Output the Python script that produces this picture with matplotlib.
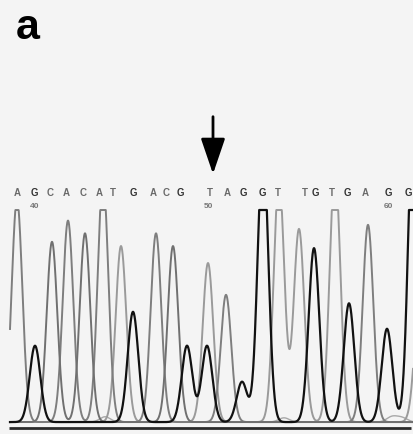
import numpy as np
import matplotlib
matplotlib.use("Agg")
import matplotlib.pyplot as plt

# called bases and their positions along the trace (scan units)
BASES = list("AGCACATGACGTAGGTTGTGAGG")
BASE_X = [17, 34, 50, 66, 83, 99, 113, 133, 153, 166, 180, 210, 227,
          243, 262, 278, 305, 315, 332, 347, 365, 388, 408]
POS_LABELS = ["40", "50", "60"]
POS_X = [35, 208, 388]

# peaks per channel: centre, height (1.0 = clipped top of the display)
G_X = [35, 133, 187, 207, 242, 263, 314, 349, 387, 414]
G_H = [0.36, 0.52, 0.36, 0.36, 0.19, 1.30, 0.82, 0.56, 0.44, 1.6]
A_X = [17, 68, 103, 156, 226, 368]
A_H = [1.05, 0.95, 1.15, 0.89, 0.60, 0.93]
C_X = [52, 85, 173]
C_H = [0.85, 0.89, 0.83]
T_X = [121, 208, 279, 299, 335, 420]
T_H = [0.83, 0.75, 1.15, 0.91, 1.20, 0.6]
# small baseline bumps
N_X = [105, 284, 392, 402]
N_H = [0.025, 0.02, 0.025, 0.02]

SIGMA = 5.3
BG = "#f4f4f4"


def trace(xs, centres, heights, sigma=SIGMA):
    y = np.zeros_like(xs)
    for c, h in zip(centres, heights):
        y += h * np.exp(-(xs - c) ** 2 / (2 * sigma ** 2))
    return np.clip(y, 0, 1.0)


fig = plt.figure(figsize=(4.13, 4.35), dpi=100, facecolor=BG)
W, H = 413, 435
# trace panel: bottom edge at y=429 px, top (clip level) at y=211 px
ax = fig.add_axes([0, (H - 429) / H, 1, (429 - 211) / H])
ax.set_facecolor(BG)
ax.set_xlim(0, W)
ax.set_ylim(-0.028, 1.0)
for s in ax.spines.values():
    s.set_visible(False)
ax.set_xticks([]); ax.set_yticks([])

xs = np.linspace(10, W, 2000)
ax.plot(xs, trace(xs, N_X, N_H), color="#a8a8a8", lw=1.0, clip_on=False)
ax.plot(xs, trace(xs, T_X, T_H), color="#9a9a9a", lw=1.4, clip_on=False)
ax.plot(xs, trace(xs, A_X, A_H), color="#7e7e7e", lw=1.4, clip_on=False)
ax.plot(xs, trace(xs, C_X, C_H), color="#707070", lw=1.4, clip_on=False)
ax.plot(xs, trace(xs, G_X, G_H), color="#111111", lw=1.6, clip_on=False)

ax.hlines(-0.026, 9, 411, color="#2a2a2a", lw=2.0, clip_on=False)

for b, x in zip(BASES, BASE_X):
    ax.text(x, 1.085, b, ha="center", va="center", fontsize=7,
            fontweight="bold", color="#333333" if b == "G" else "#6a6a6a",
            family="Liberation Sans", clip_on=False)
for lab, x in zip(POS_LABELS, POS_X):
    ax.text(x, 1.022, lab, ha="center", va="center", fontsize=6,
            fontweight="bold", color="#777777", family="Liberation Sans",
            clip_on=False)

# arrow pointing at the variant base
ax.annotate("", xy=(213, 1.17), xytext=(213, 1.44),
            arrowprops=dict(arrowstyle="-|>,head_length=2.2,head_width=0.75",
                            mutation_scale=10, lw=2.0, color="black",
                            shrinkA=0, shrinkB=0),
            annotation_clip=False)

fig.text(16 / W, 1 - 8 / H, "a", fontsize=31, fontweight="bold",
         family="Liberation Sans", ha="left", va="top")

fig.savefig("out.png", dpi=100, facecolor=BG)
